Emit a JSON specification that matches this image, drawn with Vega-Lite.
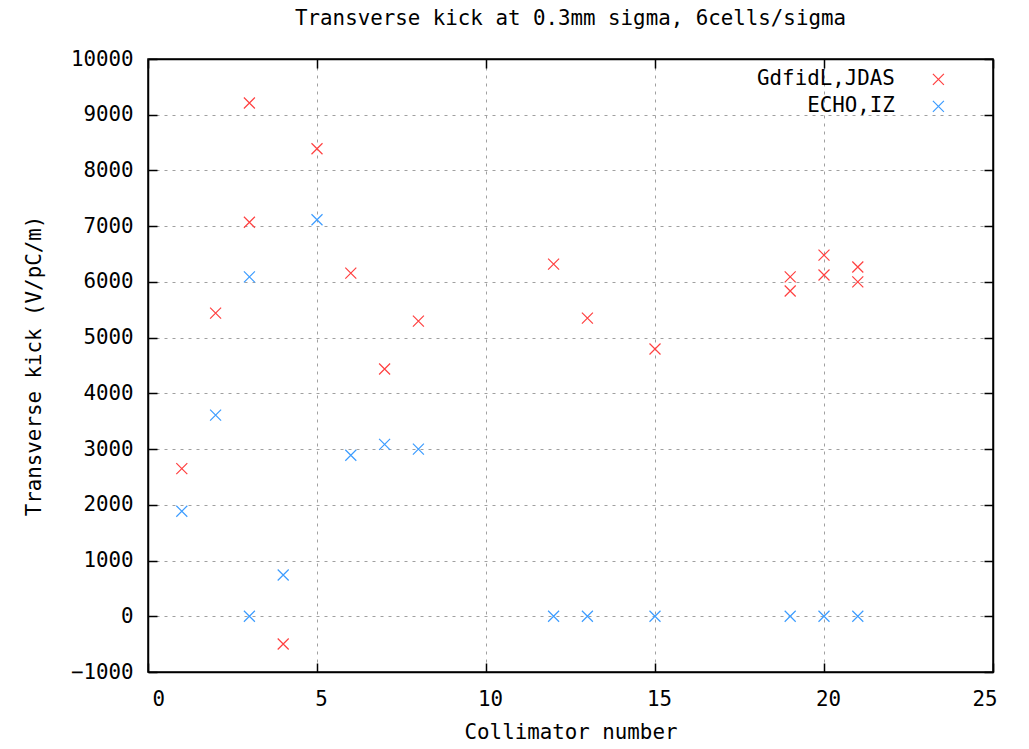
{
  "$schema": "https://vega.github.io/schema/vega-lite/v6.json",
  "width": 845,
  "height": 613,
  "autosize": "none",
  "padding": {"left": 148, "top": 59, "right": 36, "bottom": 77},
  "background": "white",
  "config": {
    "font": "DejaVu Sans Mono",
    "view": {"stroke": "black", "strokeWidth": 1.5},
    "axis": {
      "labelFont": "DejaVu Sans Mono",
      "titleFont": "DejaVu Sans Mono",
      "labelFontSize": 20.8,
      "titleFontSize": 20.8,
      "labelColor": "black",
      "titleColor": "black",
      "titleFontWeight": "normal",
      "domainColor": "black",
      "domainWidth": 1.5,
      "tickColor": "black",
      "tickWidth": 1.5,
      "tickSize": -9,
      "gridColor": "#a0a0a0",
      "gridDash": [3, 5],
      "gridWidth": 1,
      "gridOpacity": 1
    }
  },
  "title": {
    "text": "Transverse kick at 0.3mm sigma, 6cells/sigma",
    "font": "DejaVu Sans Mono",
    "fontSize": 20.8,
    "fontWeight": "normal",
    "color": "black",
    "anchor": "middle",
    "offset": 18
  },
  "data": {
    "values": [
      {"x": 1, "y": 2650, "series": "GdfidL,JDAS"},
      {"x": 2, "y": 5440, "series": "GdfidL,JDAS"},
      {"x": 3, "y": 9210, "series": "GdfidL,JDAS"},
      {"x": 3, "y": 7070, "series": "GdfidL,JDAS"},
      {"x": 4, "y": -497, "series": "GdfidL,JDAS"},
      {"x": 5, "y": 8390, "series": "GdfidL,JDAS"},
      {"x": 6, "y": 6158, "series": "GdfidL,JDAS"},
      {"x": 7, "y": 4437, "series": "GdfidL,JDAS"},
      {"x": 8, "y": 5296, "series": "GdfidL,JDAS"},
      {"x": 12, "y": 6320, "series": "GdfidL,JDAS"},
      {"x": 13, "y": 5350, "series": "GdfidL,JDAS"},
      {"x": 15, "y": 4796, "series": "GdfidL,JDAS"},
      {"x": 19, "y": 6090, "series": "GdfidL,JDAS"},
      {"x": 19, "y": 5837, "series": "GdfidL,JDAS"},
      {"x": 20, "y": 6480, "series": "GdfidL,JDAS"},
      {"x": 20, "y": 6124, "series": "GdfidL,JDAS"},
      {"x": 21, "y": 6268, "series": "GdfidL,JDAS"},
      {"x": 21, "y": 6000, "series": "GdfidL,JDAS"},
      {"x": 1, "y": 1885, "series": "ECHO,IZ"},
      {"x": 2, "y": 3609, "series": "ECHO,IZ"},
      {"x": 3, "y": 6090, "series": "ECHO,IZ"},
      {"x": 3, "y": 0, "series": "ECHO,IZ"},
      {"x": 4, "y": 741, "series": "ECHO,IZ"},
      {"x": 5, "y": 7115, "series": "ECHO,IZ"},
      {"x": 6, "y": 2890, "series": "ECHO,IZ"},
      {"x": 7, "y": 3085, "series": "ECHO,IZ"},
      {"x": 8, "y": 3000, "series": "ECHO,IZ"},
      {"x": 12, "y": 0, "series": "ECHO,IZ"},
      {"x": 13, "y": 0, "series": "ECHO,IZ"},
      {"x": 15, "y": 0, "series": "ECHO,IZ"},
      {"x": 19, "y": 0, "series": "ECHO,IZ"},
      {"x": 20, "y": 0, "series": "ECHO,IZ"},
      {"x": 21, "y": 0, "series": "ECHO,IZ"}
    ]
  },
  "layer": [
    {
      "mark": {"type": "point", "shape": "M-1,-1L1,1M1,-1L-1,1", "filled": false, "strokeWidth": 1.2, "size": 121, "opacity": 1},
      "encoding": {
        "x": {
          "field": "x", "type": "quantitative",
          "scale": {"domain": [0, 25], "nice": false, "zero": false},
          "axis": {"orient": "bottom", "values": [0, 5, 10, 15, 20, 25], "format": "d", "title": "Collimator number", "labelPadding": 26, "labelOffset": 4, "titlePadding": 14, "grid": true}
        },
        "y": {
          "field": "y", "type": "quantitative",
          "scale": {"domain": [-1000, 10000], "nice": false, "zero": false},
          "axis": {"orient": "left", "values": [-1000, 0, 1000, 2000, 3000, 4000, 5000, 6000, 7000, 8000, 9000, 10000], "format": "d", "title": "Transverse kick (V/pC/m)", "labelPadding": 24, "titlePadding": 26, "grid": true}
        },
        "color": {
          "field": "series", "type": "nominal",
          "scale": {"domain": ["GdfidL,JDAS", "ECHO,IZ"], "range": ["#ff4040", "#3c9cff"]},
          "legend": {
            "title": null,
            "orient": "none",
            "legendX": 780,
            "legendY": 10,
            "labelFontSize": 20.8,
            "labelFont": "DejaVu Sans Mono",
            "labelColor": "black",
            "labelAlign": "right",
            "labelOffset": -54,
            "rowPadding": 5,
            "symbolType": "M-1,-1L1,1M1,-1L-1,1",
            "symbolSize": 121,
            "symbolStrokeWidth": 1.2,
            "symbolFillColor": "transparent"
          }
        }
      }
    },
    {
      "mark": {"type": "point", "opacity": 0},
      "encoding": {
        "x": {
          "field": "x", "type": "quantitative",
          "scale": {"domain": [0, 25], "nice": false, "zero": false},
          "axis": {"orient": "top", "values": [0, 5, 10, 15, 20, 25], "labels": false, "title": null, "grid": false}
        },
        "y": {
          "field": "y", "type": "quantitative",
          "scale": {"domain": [-1000, 10000], "nice": false, "zero": false},
          "axis": {"orient": "right", "values": [-1000, 0, 1000, 2000, 3000, 4000, 5000, 6000, 7000, 8000, 9000, 10000], "labels": false, "title": null, "grid": false}
        }
      }
    }
  ],
  "resolve": {"axis": {"x": "independent", "y": "independent"}}
}
